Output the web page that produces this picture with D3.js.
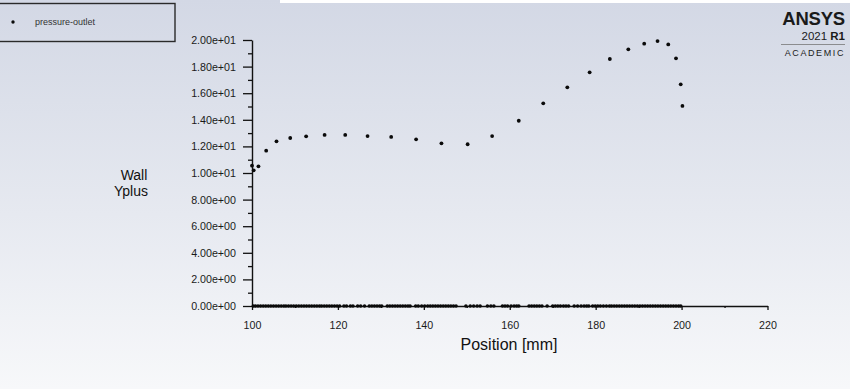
<!DOCTYPE html>
<html>
<head>
<meta charset="utf-8">
<script src="https://cdn.jsdelivr.net/npm/d3@7"></script>
<style>
  html, body { margin: 0; padding: 0; }
  body { width: 850px; height: 389px; overflow: hidden; font-family: Arial, "Liberation Sans", sans-serif; }
</style>
</head>
<body>
<div id="chart"></div>
<script>
// Wall Yplus along position, pressure-outlet
const posCurve = [100.0, 100.4, 101.5, 103.3, 105.7, 108.9, 112.6, 116.9, 121.7, 126.9, 132.4, 138.2,
    144.1, 150.2, 155.9, 162.1, 167.8, 173.4, 178.6, 183.3, 187.6, 191.3, 194.4, 196.9, 198.7, 199.8, 200.2];
const yplusCurve = [10.55, 10.2, 10.5, 11.68, 12.38, 12.63, 12.76, 12.86, 12.86, 12.78, 12.71, 12.53,
    12.23, 12.16, 12.78, 13.93, 15.24, 16.44, 17.57, 18.57, 19.30, 19.72, 19.92, 19.67, 18.62, 16.67, 15.04];
// faces with zero yplus
const posZero = [100.3, 100.8, 101.4, 102.0, 102.6, 103.2, 103.8, 104.4, 105.0, 105.6, 106.2, 106.8, 107.4, 107.9,
    108.5, 109.1, 109.7, 110.3, 110.9, 111.5, 112.1, 112.7, 113.3, 113.9, 114.5, 115.1, 115.7, 116.2,
    116.8, 117.4, 118.0, 118.6, 119.2, 119.8, 120.4,
    121.4, 122.0, 122.9, 123.5, 124.6, 125.3, 126.2,
    127.3, 127.9, 128.5, 129.1, 129.7, 130.2,
    131.5, 132.1, 132.7, 133.3, 133.9, 134.5, 135.1, 135.7, 136.3, 136.8,
    138.1, 138.7, 139.5, 140.2,
    140.9, 141.5, 142.1, 142.7, 143.3, 143.9, 144.5, 145.1, 145.7, 146.3, 146.9, 147.5,
    149.8, 150.8, 151.6, 152.4, 153.1,
    154.8, 155.6, 156.3,
    158.3, 158.9, 159.5, 160.3, 161.0, 161.6, 162.1,
    164.5, 165.1, 165.7, 166.3, 166.9, 167.5,
    168.7,
    170.0, 170.6, 171.2, 171.8, 172.5, 173.1, 173.7,
    175.0, 175.8, 176.6, 177.3, 177.9, 178.4,
    179.3, 179.9, 180.5, 181.1, 181.8, 182.5, 183.2, 183.7, 184.3, 184.9, 185.5, 186.1, 186.7, 187.3,
    187.9, 188.5, 189.1, 189.7, 190.3, 190.9, 191.5, 192.1, 192.7, 193.3, 193.9, 194.5, 195.1, 195.7,
    196.3, 196.9, 197.5, 198.1, 198.7, 199.3, 199.8];

const xTicks = [100, 120, 140, 160, 180, 200, 220];
const xMinor = [110, 130, 150, 170, 190, 210];
const yTicks = [0, 2, 4, 6, 8, 10, 12, 14, 16, 18, 20];
const yMinor = [1, 3, 5, 7, 9, 11, 13, 15, 17, 19];
const seriesName = 'pressure-outlet';

const W = 850, H = 389;
const svg = d3.select('#chart').append('svg')
    .attr('width', W).attr('height', H);

// background gradient
const defs = svg.append('defs');
const grad = defs.append('linearGradient').attr('id', 'bg')
    .attr('x1', 0).attr('y1', 0).attr('x2', 0).attr('y2', 1);
grad.append('stop').attr('offset', '0%').attr('stop-color', '#d3d8e5');
grad.append('stop').attr('offset', '55%').attr('stop-color', '#e6e9f0');
grad.append('stop').attr('offset', '100%').attr('stop-color', '#f7f8fa');
svg.append('rect').attr('width', W).attr('height', H).attr('fill', 'url(#bg)');
svg.append('rect').attr('x', 280).attr('y', 0).attr('width', 570).attr('height', 3).attr('fill', '#ffffff');

const x = d3.scaleLinear().domain([100, 220]).range([252, 767.5]);
const y = d3.scaleLinear().domain([0, 20]).range([306, 40]);

const fmt = d => d.toExponential(2).replace(/e([+-])(\d)$/, 'e$10$2');

// y axis
svg.append('g').attr('transform', 'translate(252,0)')
    .call(d3.axisLeft(y).tickValues(yTicks).tickFormat(fmt).tickSize(9).tickPadding(7).tickSizeOuter(0));
svg.append('g').attr('transform', 'translate(252,0)')
    .call(d3.axisLeft(y).tickValues(yMinor).tickFormat('').tickSize(4).tickSizeOuter(0))
    .call(g => g.select('.domain').remove());

// x axis
svg.append('g').attr('transform', 'translate(0,306)')
    .call(d3.axisBottom(x).tickValues(xTicks).tickSize(4).tickPadding(11).tickSizeOuter(0));
svg.append('g').attr('transform', 'translate(0,306)')
    .call(d3.axisBottom(x).tickValues(xMinor).tickFormat('').tickSize(2).tickSizeOuter(0))
    .call(g => g.select('.domain').remove());

svg.selectAll('.domain').attr('stroke', '#111').attr('stroke-width', 1.4);
svg.selectAll('.tick line').attr('stroke', '#111').attr('stroke-width', 1.3);
svg.selectAll('.tick text').attr('fill', '#1a1a1a').style('font-size', '10.7px')
    .style('font-family', 'Arial, "Liberation Sans", sans-serif');

// points
svg.append('g').selectAll('circle.z')
    .data(posZero).join('circle')
    .attr('cx', d => x(d)).attr('cy', y(0)).attr('r', 1.8).attr('fill', '#0a0a0a');
svg.append('g').selectAll('circle.c')
    .data(posCurve).join('circle')
    .attr('cx', d => x(d)).attr('cy', (d, i) => y(yplusCurve[i])).attr('r', 1.9).attr('fill', '#0a0a0a');

// axis titles
svg.append('text').attr('x', 134).attr('y', 180).attr('text-anchor', 'middle')
    .style('font-size', '14px').attr('fill', '#111').text('Wall');
svg.append('text').attr('x', 131).attr('y', 196).attr('text-anchor', 'middle')
    .style('font-size', '14px').attr('fill', '#111').text('Yplus');
svg.append('text').attr('x', 509).attr('y', 350).attr('text-anchor', 'middle')
    .style('font-size', '16px').attr('fill', '#111').text('Position [mm]');

// legend
const lg = svg.append('g');
lg.append('rect').attr('x', -2).attr('y', 3.5).attr('width', 177).attr('height', 38)
    .attr('fill', 'none').attr('stroke', '#2a2a2a').attr('stroke-width', 1.4);
lg.append('circle').attr('cx', 13).attr('cy', 22).attr('r', 1.7).attr('fill', '#0a0a0a');
lg.append('text').attr('x', 35).attr('y', 25).style('font-size', '9px').attr('fill', '#333')
    .text(seriesName);

// logo
const logo = svg.append('g').attr('fill', '#1a1a1a');
logo.append('text').attr('x', 845).attr('y', 25).attr('text-anchor', 'end')
    .style('font-size', '18.5px').style('font-weight', 'bold').style('letter-spacing', '-0.2px').text('ANSYS');
const yr = logo.append('text').attr('x', 845).attr('y', 39.5).attr('text-anchor', 'end').style('font-size', '11.5px');
yr.append('tspan').text('2021 ');
yr.append('tspan').style('font-weight', 'bold').text('R1');
logo.append('line').attr('x1', 781).attr('x2', 845).attr('y1', 44.5).attr('y2', 44.5)
    .attr('stroke', '#777').attr('stroke-width', 0.8);
logo.append('text').attr('x', 845).attr('y', 55.5).attr('text-anchor', 'end')
    .style('font-size', '9px').style('letter-spacing', '1.6px').text('ACADEMIC');
</script>
</body>
</html>
